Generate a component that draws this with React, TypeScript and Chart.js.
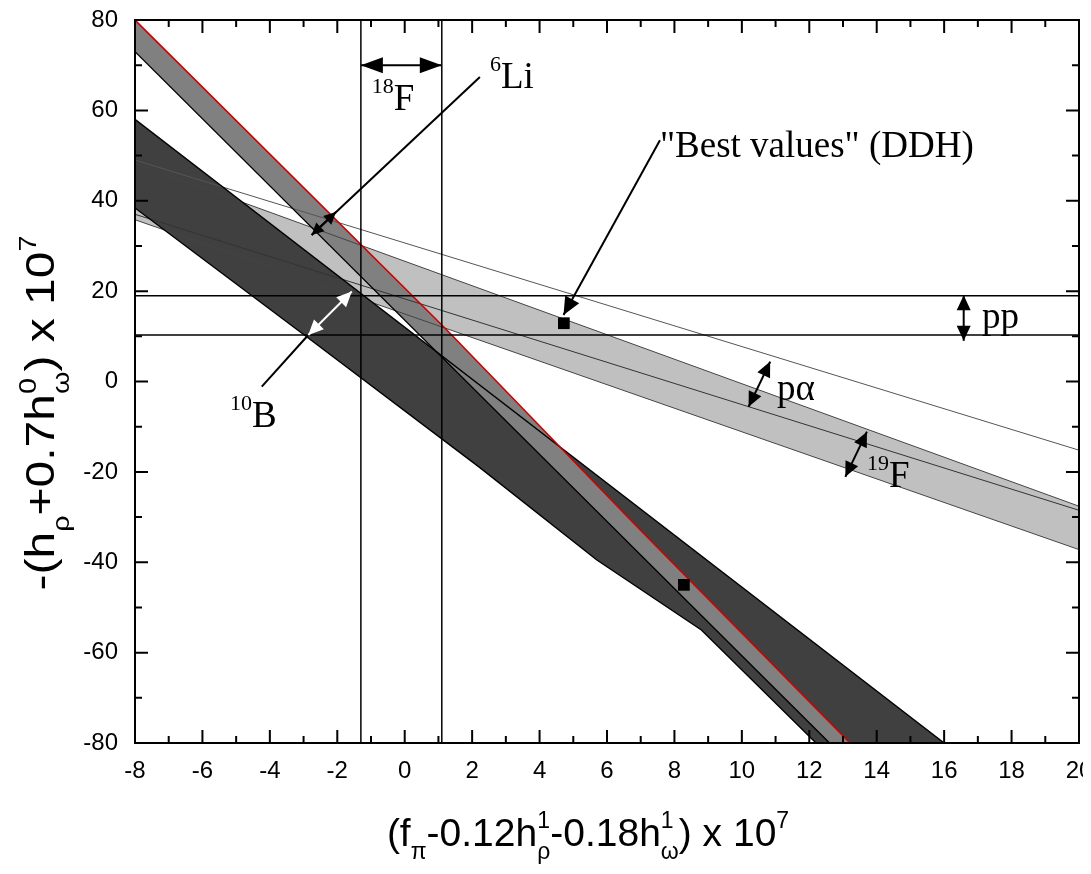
import React, { useEffect, useRef } from 'react';
import { Chart, registerables } from 'chart.js';

Chart.register(...registerables);

// ---------- axes ----------
const X_MIN = -8;
const X_MAX = 20;
const Y_MIN = -80;
const Y_MAX = 80;
const X_TICK_STEP = 1;
const Y_TICK_STEP = 10;
const X_LABEL_STEP = 2;
const Y_LABEL_STEP = 20;

// ---------- 19F band (light gray) ----------
const F19_UPPER_X = [-8, 20];
const F19_UPPER_Y = [48.3, -27.6];
const F19_LOWER_X = [-8, 20];
const F19_LOWER_Y = [35.8, -37.2];
// p-alpha line and the thin upper line
const PA_LINE_X = [-8, 20];
const PA_LINE_Y = [37, -28.5];
const THIN_LINE_X = [-8, 20];
const THIN_LINE_Y = [49, -15.2];

// ---------- 10B band (dark gray) ----------
const B10_UPPER_X = [-8, 16];
const B10_UPPER_Y = [58, -80];
const B10_LOWER_X = [-8, -2.9, 2.2, 5.7, 8.8, 12.2];
const B10_LOWER_Y = [38.4, 9.85, -18.9, -39.5, -55, -80];

// ---------- 6Li band (medium gray) ----------
const LI6_UPPER_X = [-8, 1.25, 6.98, 13.21];
const LI6_UPPER_Y = [80, 11.4, -32.8, -80];
const LI6_LOWER_X = [-8, 12.6];
const LI6_LOWER_Y = [73, -80];

// ---------- pp and 18F constraints ----------
const PP_Y = [19, 10.3];
const F18_X = [-1.3, 1.1];

// ---------- "best values" points ----------
const BEST_X = [4.72, 8.28];
const BEST_Y = [12.9, -45];

// ---------- annotations (data coordinates) ----------
const DOUBLE_ARROWS = [
  { from: [-1.3, 70], to: [1.1, 70], color: '#000', len: 22, half: 8 },
  { from: [16.58, 19.1], to: [16.58, 9.0], color: '#000', len: 15, half: 7 },
  { from: [10.84, 4.4], to: [10.2, -5.6], color: '#000', len: 15, half: 7 },
  { from: [13.71, -11.1], to: [13.07, -21.1], color: '#000', len: 15, half: 7 },
  { from: [-1.57, 19.9], to: [-2.86, 10.3], color: '#fff', len: 15, half: 7 },
  { from: [-2.04, 37.5], to: [-2.76, 32.4], color: '#000', len: 12, half: 6 },
];
const POINTERS = [
  { from: [2.23, 67.4], to: [-2.76, 32.4], head: false },
  { from: [7.57, 53.4], to: [4.71, 14.7], head: true },
  { from: [-4.24, -1.15], to: [-2.86, 10.3], head: false },
];
const LABELS = [
  { sup: '18', text: 'F', at: [-0.98, 60] },
  { sup: '6', text: 'Li', at: [2.53, 64.9] },
  { sup: '', text: '"Best values" (DDH)', at: [7.57, 49.7] },
  { sup: '10', text: 'B', at: [-5.18, -10] },
  { sup: '', text: 'pp', at: [17.12, 11.8] },
  { sup: '', text: 'p\u03b1', at: [11.04, -4.1] },
  { sup: '19', text: 'F', at: [13.71, -23.3] },
];

type Seg = { t: string; mode?: 'sub' | 'sup' | 'stack'; sub?: string };
const X_TITLE: Seg[] = [
  { t: '(f' }, { t: '\u03c0', mode: 'sub' }, { t: '-0.12h' }, { t: '1', mode: 'stack', sub: '\u03c1' },
  { t: '-0.18h' }, { t: '1', mode: 'stack', sub: '\u03c9' }, { t: ') x 10' }, { t: '7', mode: 'sup' },
];
const Y_TITLE: Seg[] = [
  { t: '-(h' }, { t: '\u03c1', mode: 'sub' }, { t: '+0.7h' }, { t: '0', mode: 'stack', sub: '\u03c9' },
  { t: ') x 10' }, { t: '7', mode: 'sup' },
];

const SERIF = "'Liberation Serif', 'Times New Roman', serif";
const SANS = "'Liberation Sans', Arial, sans-serif";

const zip = (xs: number[], ys: number[]) => xs.map((x, i) => ({ x, y: ys[i] }));
const band = (ux: number[], uy: number[], lx: number[], ly: number[]) => [
  ...zip(ux, uy),
  ...zip(lx, ly).reverse(),
];
const isMult = (v: number, m: number) => Math.abs(v / m - Math.round(v / m)) < 1e-6;

function segWidth(ctx: CanvasRenderingContext2D, s: Seg, big: number, small: number, fam: string) {
  if (!s.mode) {
    ctx.font = `${big}px ${fam}`;
    return ctx.measureText(s.t).width;
  }
  ctx.font = `${small}px ${fam}`;
  const w1 = ctx.measureText(s.t).width;
  const w2 = s.sub ? ctx.measureText(s.sub).width : 0;
  return Math.max(w1, w2);
}
function richWidth(ctx: CanvasRenderingContext2D, segs: Seg[], big: number, small: number, fam: string) {
  return segs.reduce((a, s) => a + segWidth(ctx, s, big, small, fam), 0);
}
function drawRich(
  ctx: CanvasRenderingContext2D, segs: Seg[], x0: number, base: number,
  big: number, small: number, fam: string, supUp: number, subDown: number,
) {
  let x = x0;
  ctx.textBaseline = 'alphabetic';
  ctx.textAlign = 'left';
  for (const s of segs) {
    const w = segWidth(ctx, s, big, small, fam);
    if (!s.mode) {
      ctx.font = `${big}px ${fam}`;
      ctx.fillText(s.t, x, base);
    } else {
      ctx.font = `${small}px ${fam}`;
      if (s.mode === 'sup') ctx.fillText(s.t, x, base - supUp);
      else if (s.mode === 'sub') ctx.fillText(s.t, x, base + subDown);
      else {
        ctx.fillText(s.t, x, base - supUp);
        ctx.fillText(s.sub || '', x, base + subDown);
      }
    }
    x += w;
  }
}

function head(
  ctx: CanvasRenderingContext2D, fx: number, fy: number, tx: number, ty: number,
  color: string, L: number, W: number,
) {
  const ang = Math.atan2(ty - fy, tx - fx);
  const bx = tx - L * Math.cos(ang);
  const by = ty - L * Math.sin(ang);
  ctx.beginPath();
  ctx.moveTo(tx, ty);
  ctx.lineTo(bx + W * Math.sin(ang), by - W * Math.cos(ang));
  ctx.lineTo(bx - W * Math.sin(ang), by + W * Math.cos(ang));
  ctx.closePath();
  ctx.fillStyle = color;
  ctx.fill();
}

const decorPlugin = {
  id: 'decor',
  afterDatasetsDraw(chart: any) {
    const { ctx, chartArea: a, scales } = chart;
    const xs = scales.x;
    const ys = scales.y;
    const px = (v: number) => xs.getPixelForValue(v);
    const py = (v: number) => ys.getPixelForValue(v);
    ctx.save();
    // frame
    ctx.strokeStyle = '#000';
    ctx.lineWidth = 2;
    ctx.strokeRect(a.left, a.top, a.right - a.left, a.bottom - a.top);
    // inward ticks on all four sides
    ctx.beginPath();
    for (const t of xs.ticks) {
      const p = px(t.value);
      const len = isMult(t.value, X_LABEL_STEP) ? 13 : 7;
      ctx.moveTo(p, a.bottom);
      ctx.lineTo(p, a.bottom - len);
      ctx.moveTo(p, a.top);
      ctx.lineTo(p, a.top + len);
    }
    for (const t of ys.ticks) {
      const p = py(t.value);
      const len = isMult(t.value, Y_LABEL_STEP) ? 13 : 7;
      ctx.moveTo(a.left, p);
      ctx.lineTo(a.left + len, p);
      ctx.moveTo(a.right, p);
      ctx.lineTo(a.right - len, p);
    }
    ctx.stroke();

    // pointers
    ctx.lineWidth = 2;
    for (const p of POINTERS) {
      const fx = px(p.from[0]), fy = py(p.from[1]), tx = px(p.to[0]), ty = py(p.to[1]);
      ctx.strokeStyle = '#000';
      ctx.beginPath();
      ctx.moveTo(fx, fy);
      ctx.lineTo(tx, ty);
      ctx.stroke();
      if (p.head) head(ctx, fx, fy, tx, ty, '#000', 18, 8);
    }
    // double arrows
    for (const d of DOUBLE_ARROWS) {
      const fx = px(d.from[0]), fy = py(d.from[1]), tx = px(d.to[0]), ty = py(d.to[1]);
      ctx.strokeStyle = d.color;
      ctx.beginPath();
      ctx.moveTo(fx, fy);
      ctx.lineTo(tx, ty);
      ctx.stroke();
      head(ctx, tx, ty, fx, fy, d.color, d.len, d.half);
      head(ctx, fx, fy, tx, ty, d.color, d.len, d.half);
    }
    // labels
    ctx.fillStyle = '#000';
    for (const l of LABELS) {
      const segs: Seg[] = [];
      if (l.sup) segs.push({ t: l.sup, mode: 'sup' });
      segs.push({ t: l.text });
      drawRich(ctx, segs, px(l.at[0]), py(l.at[1]), 37, 22, SERIF, 17, 0);
    }

    // axis titles
    const wx = richWidth(ctx, X_TITLE, 39, 23, SANS);
    drawRich(ctx, X_TITLE, 580 - wx / 2, 838, 39, 23, SANS, 18, 13);
    const wy = richWidth(ctx, Y_TITLE, 40, 24, SANS);
    ctx.translate(46, 405);
    ctx.rotate(-Math.PI / 2);
    ctx.scale(1.2, 1);
    drawRich(ctx, Y_TITLE, -wy / 2, 0, 40, 24, SANS, 18, 15);
    ctx.restore();
  },
};

export default function App() {
  const ref = useRef<HTMLCanvasElement | null>(null);
  useEffect(() => {
    if (!ref.current) return;
    const line = (xs: number[], ys: number[], color: string, width: number) => ({
      data: zip(xs, ys),
      showLine: true,
      borderColor: color,
      borderWidth: width,
      pointRadius: 0,
      fill: false,
    });
    const poly = (pts: { x: number; y: number }[], color: string) => ({
      data: pts,
      showLine: true,
      borderWidth: 0,
      borderColor: 'rgba(0,0,0,0)',
      backgroundColor: color,
      pointRadius: 0,
      fill: 'shape',
    });
    const datasets: any[] = [
      {
        data: zip(BEST_X, BEST_Y),
        pointStyle: 'rect',
        pointRadius: 8.3,
        backgroundColor: '#000',
        borderColor: '#000',
        borderWidth: 0,
        showLine: false,
      },
      line([F18_X[0], F18_X[0]], [Y_MIN, Y_MAX], '#000', 1.5),
      line([F18_X[1], F18_X[1]], [Y_MIN, Y_MAX], '#000', 1.5),
      line([X_MIN, X_MAX], [PP_Y[0], PP_Y[0]], '#000', 1.5),
      line([X_MIN, X_MAX], [PP_Y[1], PP_Y[1]], '#000', 1.5),
      line(LI6_UPPER_X, LI6_UPPER_Y, '#d00000', 1.6),
      line(LI6_LOWER_X, LI6_LOWER_Y, '#000', 1.4),
      line(B10_UPPER_X, B10_UPPER_Y, '#000', 1.4),
      line(B10_LOWER_X, B10_LOWER_Y, '#000', 1.4),
      line(THIN_LINE_X, THIN_LINE_Y, '#555', 1),
      line(PA_LINE_X, PA_LINE_Y, '#333', 1),
      line(F19_UPPER_X, F19_UPPER_Y, '#444', 1),
      line(F19_LOWER_X, F19_LOWER_Y, '#444', 1),
      poly(band(LI6_UPPER_X, LI6_UPPER_Y, LI6_LOWER_X, LI6_LOWER_Y), '#808080'),
      poly(band(B10_UPPER_X, B10_UPPER_Y, B10_LOWER_X, B10_LOWER_Y), '#404040'),
      poly(band(F19_UPPER_X, F19_UPPER_Y, F19_LOWER_X, F19_LOWER_Y), '#c0c0c0'),
    ];
    const chart = new Chart(ref.current, {
      type: 'scatter',
      data: { datasets },
      options: {
        animation: false,
        responsive: true,
        maintainAspectRatio: false,
        layout: { padding: { left: 0, right: 12, top: 12, bottom: 0 } },
        plugins: { legend: { display: false }, tooltip: { enabled: false }, title: { display: false } },
        scales: {
          x: {
            type: 'linear',
            min: X_MIN,
            max: X_MAX,
            ticks: {
              stepSize: X_TICK_STEP,
              autoSkip: false,
              maxRotation: 0,
              padding: 14,
              color: '#000',
              font: { family: SANS, size: 24 },
              callback: (v: any) => (isMult(Number(v), X_LABEL_STEP) ? String(v) : ''),
            },
            grid: { drawOnChartArea: false, drawTicks: false },
            border: { display: false },
            afterFit: (s: any) => {
              s.height = 123;
              s.paddingLeft = 0;
              s.paddingRight = 0;
            },
          },
          y: {
            type: 'linear',
            min: Y_MIN,
            max: Y_MAX,
            ticks: {
              stepSize: Y_TICK_STEP,
              autoSkip: false,
              padding: 17,
              color: '#000',
              font: { family: SANS, size: 24 },
              callback: (v: any) => (isMult(Number(v), Y_LABEL_STEP) ? String(v) : ''),
            },
            grid: { drawOnChartArea: false, drawTicks: false },
            border: { display: false },
            afterFit: (s: any) => {
              s.width = 127;
              s.paddingTop = 0;
              s.paddingBottom = 0;
            },
          },
        },
      } as any,
      plugins: [decorPlugin],
    });
    return () => chart.destroy();
  }, []);
  return (
    <div style={{ width: 1083, height: 858, position: 'relative' }}>
      <canvas ref={ref} />
    </div>
  );
}
